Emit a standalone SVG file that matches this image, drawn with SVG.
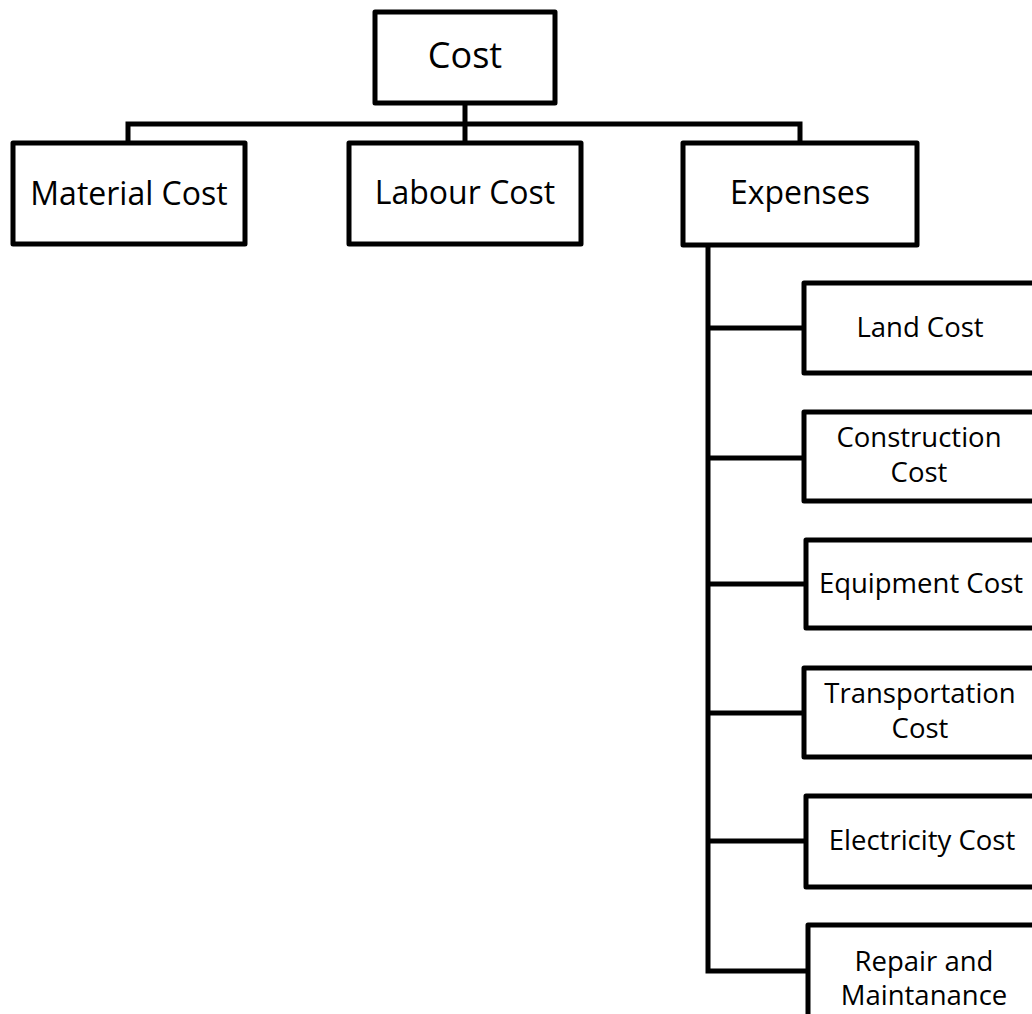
<svg xmlns="http://www.w3.org/2000/svg" width="1032" height="1014" viewBox="0 0 1032 1014">
<style>
.n{fill:#fff;stroke:#000;stroke-width:5;stroke-linejoin:round}
.c{fill:none;stroke:#000;stroke-width:5}
text{font-family:"Open Sans","Noto Sans",sans-serif;fill:#000;text-anchor:middle}
.t0{font-size:36px}
.t1{font-size:32px}
.t2{font-size:27.5px}
</style>
<rect width="1032" height="1014" fill="#fff"/>
<g id="connectors">
<path class="c" d="M128,143 V124 H800 V143 M465,103 V143"/>
<path class="c" d="M708,245 V971 H808 M708,328 H804 M708,458 H804 M708,584 H806 M708,713 H804 M708,841 H806"/>
</g>
<g id="cost"><rect class="n" x="375" y="12" width="180" height="91"/><text class="t0" x="465" y="68">Cost</text></g>
<g id="material"><rect class="n" x="13" y="143" width="232" height="101"/><text class="t1" x="129" y="205">Material Cost</text></g>
<g id="labour"><rect class="n" x="349" y="143" width="232" height="101"/><text class="t1" x="465" y="204">Labour Cost</text></g>
<g id="expenses"><rect class="n" x="683" y="143" width="234" height="102"/><text class="t1" x="800" y="204">Expenses</text></g>
<g id="land"><rect class="n" x="804" y="283" width="236" height="90"/><text class="t2" x="920" y="337">Land Cost</text></g>
<g id="construction"><rect class="n" x="804" y="412" width="236" height="89"/><text class="t2" x="919" y="447">Construction</text><text class="t2" x="919" y="482">Cost</text></g>
<g id="equipment"><rect class="n" x="806" y="540" width="236" height="88"/><text class="t2" x="921" y="593">Equipment Cost</text></g>
<g id="transportation"><rect class="n" x="804" y="668" width="236" height="89"/><text class="t2" x="920" y="703">Transportation</text><text class="t2" x="920" y="738">Cost</text></g>
<g id="electricity"><rect class="n" x="806" y="796" width="236" height="91"/><text class="t2" x="922" y="850">Electricity Cost</text></g>
<g id="repair"><rect class="n" x="808" y="925" width="236" height="100"/><text class="t2" x="924" y="971">Repair and</text><text class="t2" x="924" y="1005">Maintanance</text></g>
</svg>
